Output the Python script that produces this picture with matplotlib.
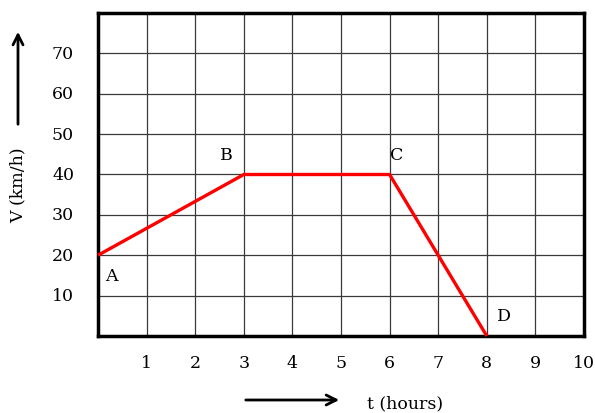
import matplotlib.pyplot as plt

# velocity-time graph
t = [0, 3, 6, 8]
v = [20, 40, 40, 0]
point_names = ["A", "B", "C", "D"]
x_ticks = [1, 2, 3, 4, 5, 6, 7, 8, 9, 10]
y_ticks = [10, 20, 30, 40, 50, 60, 70]

plt.rcParams["font.family"] = ["DejaVu Serif"]

fig = plt.figure(figsize=(5.95, 4.14), dpi=100)
ax = fig.add_axes([98 / 595, 1 - 337 / 414, 486 / 595, 323 / 414])

ax.set_xlim(0, 10)
ax.set_ylim(0, 80)
ax.set_xticks(range(0, 11))
ax.set_yticks(range(0, 81, 10))
ax.grid(True, color="#3a3a3a", linewidth=0.9)
ax.set_xticklabels([])
ax.set_yticklabels([])
ax.tick_params(length=0)
for s in ax.spines.values():
    s.set_linewidth(2.5)

for x in x_ticks:
    ax.text(x, -6.5, str(x), ha="center", va="center", fontsize=12.5)
for y in y_ticks:
    ax.text(-0.72, y, str(y), ha="center", va="center", fontsize=12.5)

ax.plot(t, v, color="#ff0000", linewidth=2.4, solid_capstyle="butt", clip_on=False, zorder=5)

offsets = [(0.28, -5), (-0.35, 5), (0.15, 5), (0.35, 5)]
for name, x, y, (dx, dy) in zip(point_names, t, v, offsets):
    ax.text(x + dx, y + dy, name, ha="center", va="center", fontsize=12.5)

# axis names with arrows outside the plot
fig.text(18 / 595, 1 - 185 / 414, "V (km/h)", rotation=90, ha="center", va="center", fontsize=12.5)
fig.text(405 / 595, 1 - 404 / 414, "t (hours)", ha="center", va="center", fontsize=12.5)
fig.add_artist(plt.Annotation("", xy=(18 / 595, 1 - 30 / 414), xytext=(18 / 595, 1 - 128 / 414),
                              xycoords="figure fraction",
                              arrowprops=dict(arrowstyle="->", lw=2, color="black", mutation_scale=18)))
fig.add_artist(plt.Annotation("", xy=(342 / 595, 1 - 401 / 414), xytext=(243 / 595, 1 - 401 / 414),
                              xycoords="figure fraction",
                              arrowprops=dict(arrowstyle="->", lw=2, color="black", mutation_scale=18)))

fig.savefig("out.png", dpi=100)
